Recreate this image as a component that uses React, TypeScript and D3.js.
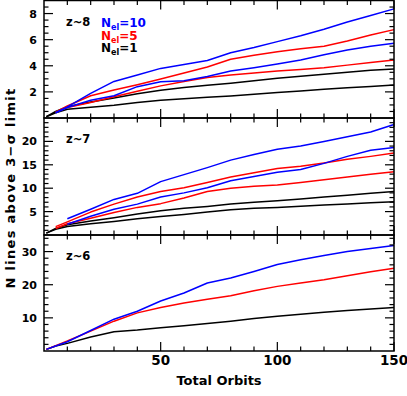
import React, { useEffect, useRef } from "react";
import * as d3 from "d3";

const ORBITS = [1, 5, 10, 20, 30, 40, 50, 60, 70, 80, 90, 100, 110, 120, 130, 140, 150];

// z~8 panel
const z8Blue10a = [null, 0.4, 0.85, 1.88, 2.8, 3.3, 3.8, 4.1, 4.4, 5.0, 5.4, 5.85, 6.3, 6.8, 7.35, 7.85, 8.36];
const z8Red5a = [null, 0.45, 0.92, 1.7, 2.15, 2.55, 2.98, 3.45, 3.9, 4.5, 4.8, 5.08, 5.3, 5.5, 5.9, 6.35, 6.77];
const z8Blue10b = [null, 0.4, 0.8, 1.36, 1.7, 2.4, 2.77, 2.85, 3.18, 3.6, 3.85, 4.13, 4.45, 4.85, 5.2, 5.5, 5.72];
const z8Red5b = [null, 0.45, 0.8, 1.18, 1.62, 2.05, 2.46, 2.8, 3.1, 3.3, 3.45, 3.6, 3.72, 3.85, 4.05, 4.25, 4.44];
const z8Black1a = [0.1, 0.5, 0.87, 1.22, 1.54, 1.85, 2.13, 2.33, 2.5, 2.67, 2.86, 3.05, 3.2, 3.35, 3.5, 3.65, 3.75];
const z8Black1b = [0.1, 0.4, 0.67, 0.82, 0.98, 1.18, 1.36, 1.47, 1.58, 1.69, 1.82, 1.95, 2.07, 2.2, 2.32, 2.42, 2.52];

// z~7 panel
const z7Blue10a = [null, null, 3.46, 5.5, 7.6, 8.9, 11.4, 12.9, 14.4, 16.0, 17.2, 18.3, 19.0, 20.0, 21.0, 22.0, 23.6];
const z7Red5a = [null, 1.8, 2.8, 4.9, 6.6, 8.1, 9.3, 10.1, 11.2, 12.4, 13.3, 14.2, 14.7, 15.4, 16.2, 16.8, 17.5];
const z7Blue10b = [null, null, 2.3, 4.0, 5.5, 6.6, 8.1, 9.0, 10.1, 11.6, 12.5, 13.4, 14.0, 15.3, 16.8, 18.1, 18.7];
const z7Red5b = [null, 1.4, 2.4, 3.6, 4.8, 5.9, 6.7, 7.9, 9.3, 10.0, 10.4, 10.7, 11.2, 11.8, 12.4, 13.0, 13.5];
const z7Black1a = [0.4, 1.4, 2.2, 3.0, 3.7, 4.5, 5.2, 5.7, 6.1, 6.6, 7.0, 7.3, 7.7, 8.1, 8.5, 8.9, 9.3];
const z7Black1b = [0.4, 1.2, 1.8, 2.4, 2.9, 3.45, 3.95, 4.4, 4.9, 5.4, 5.7, 5.9, 6.15, 6.4, 6.65, 6.9, 7.1];

// z~6 panel
const z6Blue10 = [0.5, 1.5, 2.8, 6.2, 9.6, 12.0, 15.1, 17.5, 20.5, 22.0, 24.0, 26.1, 27.5, 28.8, 30.0, 30.9, 31.8];
const z6Red5 = [0.5, 1.6, 3.0, 6.0, 9.0, 11.5, 13.1, 14.5, 15.6, 16.7, 18.2, 19.5, 20.5, 21.5, 22.7, 23.9, 25.0];
const z6Black1 = [0.5, 1.5, 2.3, 4.2, 5.8, 6.3, 7.0, 7.6, 8.3, 9.0, 9.8, 10.5, 11.1, 11.7, 12.2, 12.7, 13.1];

const X_MAJOR = [50, 100, 150];
const X_LABELS = ["50", "100", "150"];

const panels = [
  {
    label: "z~8", yMax: 9, top: 0.5, bottom: 118, major: [2, 4, 6, 8], minorStep: 0.5,
    series: [
      { v: z8Black1b, c: "#000" }, { v: z8Black1a, c: "#000" },
      { v: z8Red5b, c: "#ff0000" }, { v: z8Red5a, c: "#ff0000" },
      { v: z8Blue10b, c: "#0000ff" }, { v: z8Blue10a, c: "#0000ff" },
    ],
  },
  {
    label: "z~7", yMax: 25, top: 118, bottom: 235, major: [5, 10, 15, 20], minorStep: 1,
    series: [
      { v: z7Black1b, c: "#000" }, { v: z7Black1a, c: "#000" },
      { v: z7Red5b, c: "#ff0000" }, { v: z7Red5a, c: "#ff0000" },
      { v: z7Blue10b, c: "#0000ff" }, { v: z7Blue10a, c: "#0000ff" },
    ],
  },
  {
    label: "z~6", yMax: 35, top: 235, bottom: 351, major: [10, 20, 30], minorStep: 2,
    series: [
      { v: z6Black1, c: "#000" }, { v: z6Red5, c: "#ff0000" }, { v: z6Blue10, c: "#0000ff" },
    ],
  },
];

const legend = [
  { n: "10", c: "#0000ff" },
  { n: "5", c: "#ff0000" },
  { n: "1", c: "#000" },
];

export default function App() {
  const svgRef = useRef<SVGSVGElement>(null);

  useEffect(() => {
    const svg = d3.select(svgRef.current);
    svg.selectAll("*").remove();
    const font = "'DejaVu Sans', sans-serif";

    const x = d3.scaleLinear().domain([0, 150]).range([44, 394]);
    const majLen = 9, minLen = 4.5;

    panels.forEach((p) => {
      const y = d3.scaleLinear().domain([0, p.yMax]).range([p.bottom, p.top]);
      const g = svg.append("g");

      // lines
      p.series.forEach((s) => {
        const line = d3.line<number | null>()
          .defined((d) => d != null)
          .x((d, i) => x(ORBITS[i]))
          .y((d) => y(d as number));
        g.append("path")
          .datum(s.v)
          .attr("fill", "none")
          .attr("stroke", s.c)
          .attr("stroke-width", 1.5)
          .attr("stroke-linejoin", "round")
          .attr("d", line);
      });

      // x ticks (top and bottom)
      const xMinor = d3.range(10, 150, 10).filter((t) => t % 50 !== 0);
      const tk = g.append("g").attr("stroke", "#000").attr("stroke-width", 1.2);
      xMinor.forEach((t) => {
        tk.append("line").attr("x1", x(t)).attr("x2", x(t)).attr("y1", p.bottom).attr("y2", p.bottom - minLen);
        tk.append("line").attr("x1", x(t)).attr("x2", x(t)).attr("y1", p.top).attr("y2", p.top + minLen);
      });
      X_MAJOR.forEach((t) => {
        tk.append("line").attr("x1", x(t)).attr("x2", x(t)).attr("y1", p.bottom).attr("y2", p.bottom - majLen);
        tk.append("line").attr("x1", x(t)).attr("x2", x(t)).attr("y1", p.top).attr("y2", p.top + majLen);
      });

      // y ticks (left and right)
      const yMinor = d3.range(p.minorStep, p.yMax, p.minorStep)
        .filter((t) => !p.major.some((m) => Math.abs(m - t) < 1e-6));
      yMinor.forEach((t) => {
        tk.append("line").attr("x1", 44).attr("x2", 44 + minLen).attr("y1", y(t)).attr("y2", y(t));
        tk.append("line").attr("x1", 394).attr("x2", 394 - minLen).attr("y1", y(t)).attr("y2", y(t));
      });
      p.major.forEach((t) => {
        tk.append("line").attr("x1", 44).attr("x2", 44 + majLen).attr("y1", y(t)).attr("y2", y(t));
        tk.append("line").attr("x1", 394).attr("x2", 394 - majLen).attr("y1", y(t)).attr("y2", y(t));
        g.append("text")
          .attr("x", 37).attr("y", y(t) + 4)
          .attr("text-anchor", "end")
          .attr("font-family", font).attr("font-weight", "bold").attr("font-size", 11)
          .text(String(t));
      });

      // frame
      g.append("rect")
        .attr("x", 44).attr("y", p.top)
        .attr("width", 350).attr("height", p.bottom - p.top)
        .attr("fill", "none").attr("stroke", "#000").attr("stroke-width", 1.5);

      // panel label
      g.append("text")
        .attr("x", 66).attr("y", p.top + 25)
        .attr("font-family", font).attr("font-weight", "bold").attr("font-size", 11.5)
        .text(p.label);
    });

    // legend
    legend.forEach((l, i) => {
      const t = svg.append("text")
        .attr("x", 101).attr("y", 27 + i * 12.5)
        .attr("fill", l.c)
        .attr("font-family", font).attr("font-weight", "bold").attr("font-size", 12);
      t.append("tspan").text("N");
      t.append("tspan").attr("dy", 3).attr("font-size", 8).text("el");
      t.append("tspan").attr("dy", -3).text("=" + l.n);
    });

    // x axis labels
    X_MAJOR.forEach((t, i) => {
      svg.append("text")
        .attr("x", x(t)).attr("y", 365)
        .attr("text-anchor", "middle")
        .attr("font-family", font).attr("font-weight", "bold").attr("font-size", 13.5)
        .text(X_LABELS[i]);
    });

    svg.append("text")
      .attr("x", 219).attr("y", 385)
      .attr("text-anchor", "middle")
      .attr("font-family", font).attr("font-weight", "bold").attr("font-size", 13)
      .text("Total Orbits");

    svg.append("text")
      .attr("transform", "translate(15,188) rotate(-90)")
      .attr("text-anchor", "middle")
      .attr("font-family", font).attr("font-weight", "bold").attr("font-size", 13)
      .attr("letter-spacing", 1.3)
      .text("N lines above 3\u2212\u03c3 limit");
  }, []);

  return (
    <svg
      ref={svgRef}
      width={407}
      height={396}
      style={{ position: "absolute", left: 0, top: 0, background: "#fff" }}
    />
  );
}
